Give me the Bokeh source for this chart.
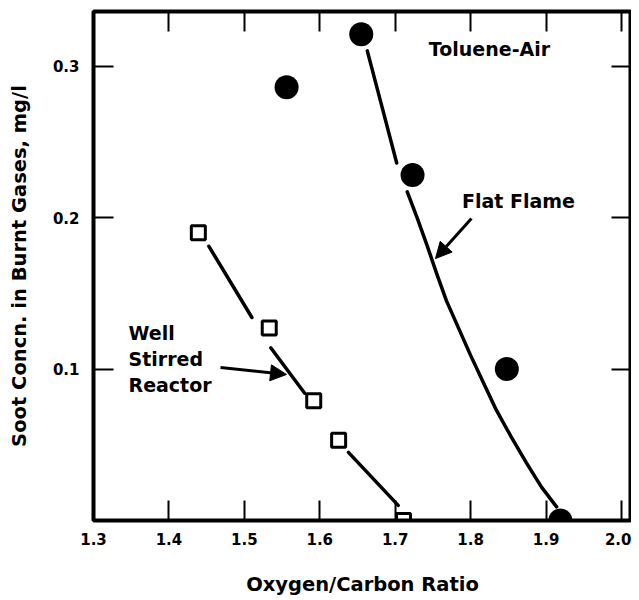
import math
from bokeh.plotting import figure
from bokeh.models import (LinearAxis, FixedTicker, Label, Arrow, NormalHead,
                          CustomJSTickFormatter)
from bokeh.embed import file_html
from bokeh.resources import INLINE

# ---------------- data ----------------
x_ticks = [1.3, 1.4, 1.5, 1.6, 1.7, 1.8, 1.9, 2.0]
x_tick_labels = ["1.3", "1.4", "1.5", "1.6", "1.7", "1.8", "1.9", "2.0"]
y_ticks = [0.1, 0.2, 0.3]
y_tick_labels = ["0.1", "0.2", "0.3"]

# Flat flame (filled circles)
flame_x = [1.556, 1.655, 1.723, 1.848, 1.919]
flame_y = [0.286, 0.321, 0.228, 0.100, 0.000]

# Well stirred reactor (open squares)
wsr_x = [1.439, 1.533, 1.592, 1.625, 1.711]
wsr_y = [0.190, 0.127, 0.079, 0.053, 0.000]

# Hand-drawn fit curves
flame_fit_a_x = [1.663, 1.682, 1.702]
flame_fit_a_y = [0.310, 0.274, 0.236]
flame_fit_b_x = [1.716, 1.729, 1.742, 1.755, 1.768, 1.784, 1.800, 1.817, 1.834, 1.854, 1.874, 1.894, 1.914]
flame_fit_b_y = [0.217, 0.200, 0.182, 0.163, 0.145, 0.127, 0.109, 0.091, 0.073, 0.055, 0.038, 0.022, 0.009]

wsr_fit_xs = [[1.453, 1.510], [1.535, 1.580], [1.638, 1.704]]
wsr_fit_ys = [[0.181, 0.134], [0.114, 0.084], [0.045, 0.010]]

wsr_label_lines = ["Well", "Stirred", "Reactor"]

FONT = "DejaVu Sans"

p = figure(width=631, height=598, x_range=(1.3, 2.0133), y_range=(0.0, 0.336),
           output_backend="svg", toolbar_location=None,
           min_border_left=93, min_border_right=0, min_border_top=11,
           min_border_bottom=78)
p.background_fill_color = "white"
p.border_fill_color = "white"
p.grid.visible = False
p.outline_line_color = "black"
p.outline_line_width = 4

# bottom / left axes
p.xaxis.ticker = FixedTicker(ticks=x_ticks)
p.xaxis.major_label_overrides = {t: l for t, l in zip(x_ticks, x_tick_labels)}
p.yaxis.ticker = FixedTicker(ticks=y_ticks)
p.yaxis.major_label_overrides = {t: l for t, l in zip(y_ticks, y_tick_labels)}
p.xaxis.axis_label = "Oxygen/Carbon Ratio"
p.yaxis.axis_label = "Soot Concn. in Burnt Gases, mg/l"

for ax in (p.xaxis[0], p.yaxis[0]):
    ax.axis_line_color = None
    ax.major_tick_in = 20
    ax.major_tick_out = 0
    ax.major_tick_line_width = 2
    ax.major_tick_line_color = "black"
    ax.minor_tick_line_color = None
    ax.major_label_text_font = FONT
    ax.major_label_text_font_style = "bold"
    ax.major_label_text_font_size = "15px"
    ax.major_label_text_color = "black"
    ax.axis_label_text_font = FONT
    ax.axis_label_text_font_style = "bold"
    ax.axis_label_text_font_size = "19.5px"
    ax.axis_label_text_color = "black"
p.xaxis.major_label_standoff = 12
p.yaxis.major_label_standoff = 14
p.xaxis.axis_label_standoff = 25
p.yaxis.axis_label_standoff = 19

blank = CustomJSTickFormatter(code="return ''")
top_axis = LinearAxis(ticker=FixedTicker(ticks=x_ticks), formatter=blank)
right_axis = LinearAxis(ticker=FixedTicker(ticks=y_ticks), formatter=blank)
for ax in (top_axis, right_axis):
    ax.axis_line_color = None
    ax.major_tick_in = 20
    ax.major_tick_out = 0
    ax.major_tick_line_width = 2
    ax.minor_tick_line_color = None
    ax.major_label_standoff = 0
    ax.major_label_text_font_size = "1px"
p.add_layout(top_axis, "above")
p.add_layout(right_axis, "right")

# fit curves
p.line(flame_fit_a_x, flame_fit_a_y, line_width=3.5, line_color="black", line_cap="round")
p.line(flame_fit_b_x, flame_fit_b_y, line_width=3.5, line_color="black",
       line_cap="round", line_join="round")
p.multi_line(wsr_fit_xs, wsr_fit_ys, line_width=3.5, line_color="black", line_cap="round")

# markers
p.scatter(flame_x, flame_y, marker="circle", size=24, fill_color="black", line_color=None)
p.scatter(wsr_x, wsr_y, marker="square", size=14, fill_color=None,
          line_color="black", line_width=3)

# annotations
def lab(x, y, text, align="center"):
    p.add_layout(Label(x=x, y=y, text=text, text_font=FONT, text_font_style="bold",
                       text_font_size="19px", text_color="black",
                       text_align=align, text_baseline="middle"))

lab(1.825, 0.311, "Toluene-Air")
lab(1.8634, 0.2112, "Flat Flame")
for i, t in enumerate(wsr_label_lines):
    lab(1.3464, 0.1241 - i * 0.0172, t, align="left")

p.add_layout(Arrow(end=NormalHead(size=16, fill_color="black", line_color="black"),
                   x_start=1.8011, y_start=0.1993, x_end=1.7534, y_end=0.1729,
                   line_width=3, line_color="black"))
p.add_layout(Arrow(end=NormalHead(size=16, fill_color="black", line_color="black"),
                   x_start=1.4684, y_start=0.1010, x_end=1.5559, y_end=0.0964,
                   line_width=3, line_color="black"))

open("out.html", "w").write(file_html(p, INLINE))
